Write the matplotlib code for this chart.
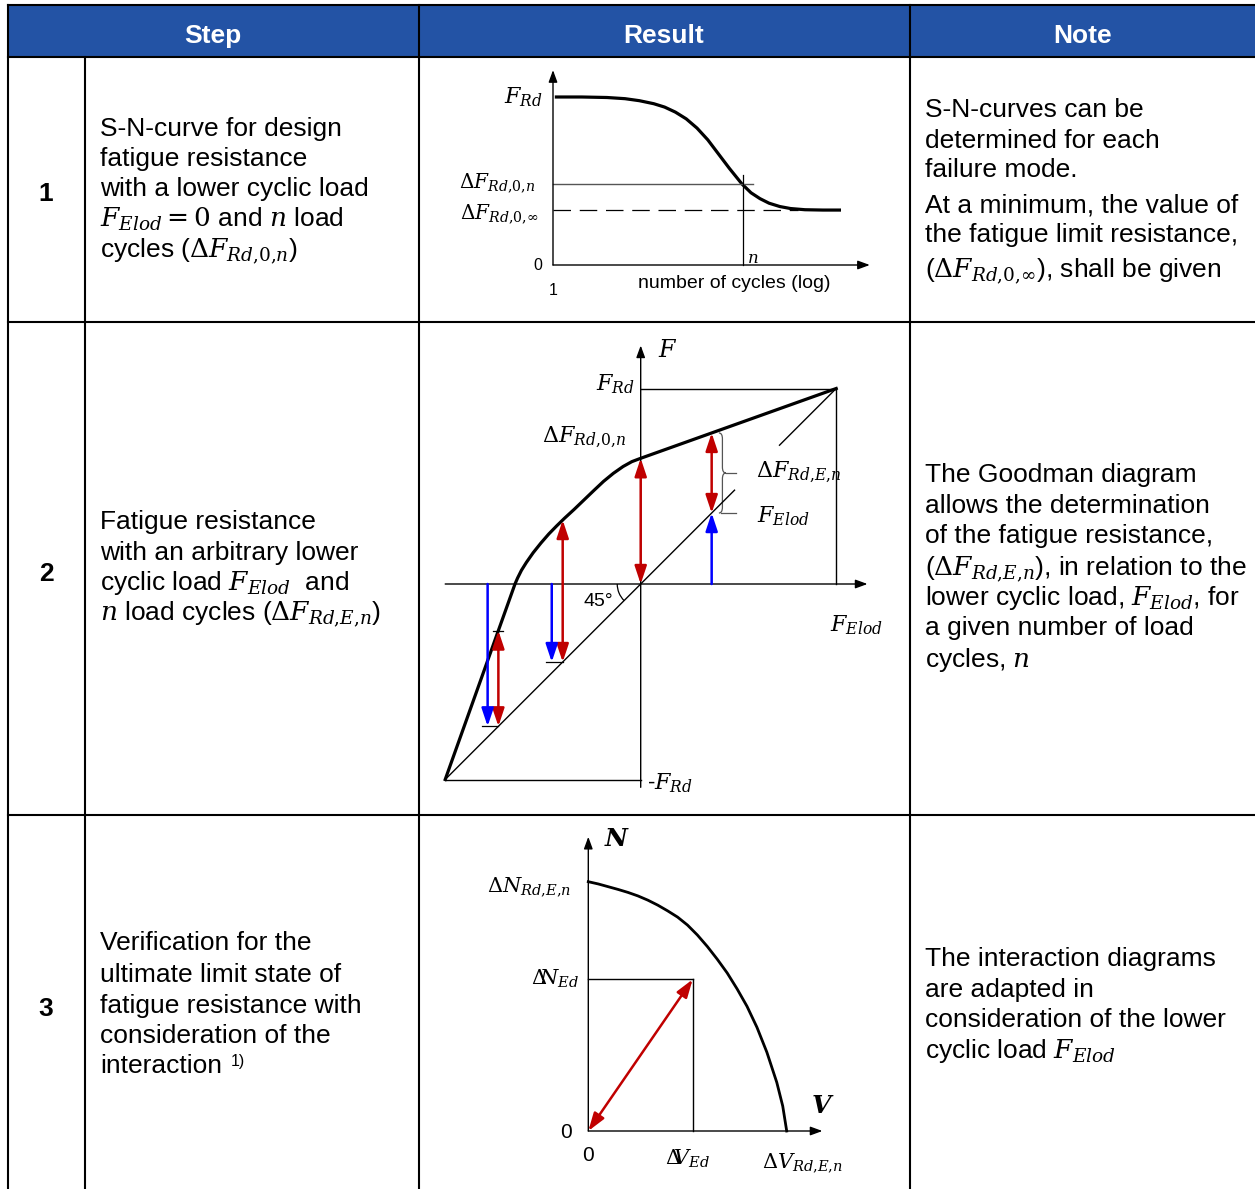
import numpy as np
import matplotlib
matplotlib.use("Agg")
import matplotlib.pyplot as plt
from matplotlib.patches import Rectangle, Arc, PathPatch
from matplotlib.path import Path

plt.rcParams['font.family'] = ['Liberation Sans', 'DejaVu Sans']
plt.rcParams['mathtext.fontset'] = 'dejavuserif'

W, H = 1255, 1189

# ---- textos de la tabla ----
encabezados = ["Step", "Result", "Note"]
pasos = ["1", "2", "3"]

texto_paso = [
    ["S-N-curve for design", "fatigue resistance", "with a lower cyclic load",
     r"$F_{Elod}=0$ and $n$ load", r"cycles ($\Delta F_{Rd{,}0{,}n}$)"],
    ["Fatigue resistance", "with an arbitrary lower",
     r"cyclic load $F_{Elod}$  and", r"$n$ load cycles ($\Delta F_{Rd{,}E{,}n}$)"],
    ["Verification for the", "ultimate limit state of", "fatigue resistance with",
     "consideration of the", "interaction"],
]
texto_nota = [
    ["S-N-curves can be", "determined for each", "failure mode.",
     "At a minimum, the value of", "the fatigue limit resistance,",
     r"($\Delta F_{Rd{,}0{,}\infty}$), shall be given"],
    ["The Goodman diagram", "allows the determination", "of the fatigue resistance,",
     r"($\Delta F_{Rd{,}E{,}n}$), in relation to the", r"lower cyclic load, $F_{Elod}$, for",
     "a given number of load", r"cycles, $n$"],
    ["The interaction diagrams", "are adapted in", "consideration of the lower",
     r"cyclic load $F_{Elod}$"],
]

# ---- diagrama 1: curva S-N (x = log ciclos, y = F / F_Rd) ----
sn_x = [0.05, 0.8, 1.5, 2.0, 2.4, 2.8, 3.1, 3.4, 3.7, 4.0, 4.3, 4.6, 4.9, 5.25, 5.5, 5.75, 6.0, 6.3, 6.6, 7.0, 7.5, 8.0]
sn_y = [1.0, 1.0, 0.997, 0.99, 0.978, 0.96, 0.94, 0.91, 0.87, 0.815, 0.745, 0.66, 0.575, 0.482, 0.43, 0.395, 0.368, 0.348, 0.336, 0.329, 0.327, 0.327]
sn_frd = 1.0
sn_n = 0.482
sn_inf = 0.327
sn_ciclos_n = 5.28

# ---- diagrama 2: Goodman (unidades de F_Rd) ----
good_x = [-1.0, -0.643, -0.63, -0.61, -0.585, -0.55, -0.51, -0.47, -0.43, -0.39, -0.34,
          -0.29, -0.24, -0.19, -0.14, -0.09, -0.045, 0.0, 1.0]
good_y = [-1.0, 0.0, 0.03, 0.07, 0.11, 0.16, 0.21, 0.256, 0.297, 0.336, 0.382,
          0.43, 0.478, 0.525, 0.566, 0.601, 0.626, 0.643, 1.0]
rojo_x = [-0.728, -0.399, 0.0, 0.363]
azul_x = [-0.783, -0.455, 0.363]
azul_fin = [-0.728, -0.399, 0.363]
recta45_tramos = [(-1.0, 0.48), (0.71, 1.0)]

# ---- diagrama 3: interaccion N-V ----
int_v = [0.0, 0.05, 0.10, 0.15, 0.20, 0.25, 0.30, 0.35, 0.40, 0.45, 0.50, 0.55,
         0.60, 0.65, 0.70, 0.75, 0.80, 0.85, 0.90, 0.95, 0.98, 1.0]
int_n = [1.0, 0.991, 0.980, 0.969, 0.957, 0.943, 0.926, 0.906, 0.883, 0.858, 0.826, 0.786,
         0.740, 0.689, 0.634, 0.570, 0.500, 0.416, 0.316, 0.195, 0.10, 0.0]
v_ed = 0.526
n_ed = 0.608

ROJO = '#C00000'
AZUL = '#0000FF'
AZUL_CAB = '#2353A5'
NARROW = ['Liberation Sans Narrow', 'Liberation Sans']
FS = 19

fig = plt.figure(figsize=(W / 100, H / 100), dpi=100)
ax = fig.add_axes([0, 0, 1, 1])
ax.set_xlim(0, W)
ax.set_ylim(H, 0)
ax.axis('off')

# ---- tabla ----
ax.add_patch(Rectangle((8, 5), W - 8, 52, facecolor=AZUL_CAB, edgecolor='none'))
lw_t = 1.5
for y in [5, 57, 321.5, 815]:
    ax.plot([8, W], [y, y], color='k', lw=lw_t, solid_capstyle='projecting')
ax.plot([8, 8], [5, H], color='k', lw=lw_t)
ax.plot([85, 85], [57, H], color='k', lw=lw_t)
for x in [419, 910.3]:
    ax.plot([x, x], [5, H], color='k', lw=lw_t)

for txt, xc in zip(encabezados, [213, 664, 1083]):
    ax.text(xc, 36, txt, color='white', fontsize=FS, fontweight='bold', ha='center', va='center')

for txt, yc in zip(pasos, [194, 574, 1009]):
    ax.text(46, yc, txt, fontsize=FS, fontweight='bold', ha='center', va='center')

base_paso = [[136, 166, 196, 227, 257], [529, 560, 590, 620], [950, 982, 1013, 1043, 1073]]
base_nota = [[117, 148, 177, 213, 242, 277], [482, 513, 543, 575, 605, 635, 667], [966, 997, 1027, 1058]]
for lineas, bases in zip(texto_paso, base_paso):
    for t, b in zip(lineas, bases):
        ax.text(100, b, t, fontsize=FS, ha='left', va='baseline')
for lineas, bases in zip(texto_nota, base_nota):
    for t, b in zip(lineas, bases):
        ax.text(925, b, t, fontsize=FS, ha='left', va='baseline')
ax.text(231, 1066, "1)", fontsize=11.5, ha='left', va='baseline')


def eje_diagrama(caja, origen, escala):
    x0, y0, x1, y1 = caja
    ox, oy = origen
    sx, sy = escala
    a = fig.add_axes([x0 / W, 1 - y1 / H, (x1 - x0) / W, (y1 - y0) / H])
    a.set_xlim((x0 - ox) / sx, (x1 - ox) / sx)
    a.set_ylim((oy - y1) / sy, (oy - y0) / sy)
    a.axis('off')
    a.patch.set_alpha(0)
    return a


def flecha(a, p0, p1, color='k', estilo='-|>,head_length=0.6,head_width=0.22', lw=1.0, ms=12):
    a.annotate('', xy=p1, xytext=p0, annotation_clip=False,
               arrowprops=dict(arrowstyle=estilo, color=color, lw=lw, mutation_scale=ms,
                               shrinkA=0, shrinkB=0))


DOBLE = '<|-|>,head_length=0.9,head_width=0.3'
SIMPLE = '-|>,head_length=0.9,head_width=0.3'

# ---- diagrama 1 ----
a1 = eje_diagrama((425, 62, 905, 316), (553, 265), (36, 168))
flecha(a1, (0, 0), (0, 1.16))
flecha(a1, (0, 0), (8.8, 0))
a1.plot(sn_x, sn_y, color='k', lw=2.3, solid_capstyle='butt', solid_joinstyle='round')
a1.plot([0, 5.56], [sn_n, sn_n], color='#555555', lw=1.0)
a1.plot([0, 6.8], [sn_inf, sn_inf], color='k', lw=0.9, linestyle=(0, (14, 7)))
a1.plot([sn_ciclos_n, sn_ciclos_n], [0, 0.536], color='k', lw=0.9)
a1.text(-0.28, sn_frd, r'$F_{Rd}$', fontsize=16, ha='right', va='center')
a1.text(-0.5, sn_n + 0.01, r'$\Delta F_{Rd{,}0{,}n}$', fontsize=14.5, ha='right', va='center')
a1.text(-0.42, sn_inf - 0.02, r'$\Delta F_{Rd{,}0{,}\infty}$', fontsize=14.5, ha='right', va='center')
a1.text(-0.3, -0.005, '0', fontsize=11.5, ha='right', va='center', family=NARROW)
a1.text(0, -0.15, '1', fontsize=11.5, ha='center', va='center', family=NARROW)
a1.text(sn_ciclos_n + 0.1, 0.04, r'$n$', fontsize=12, ha='left', va='center')
a1.text(5.03, -0.11, 'number of cycles (log)', fontsize=14, ha='center', va='center', family=NARROW)

# ---- diagrama 2 ----
a2 = eje_diagrama((425, 325, 905, 810), (640.7, 584), (195.5, 195.5))
flecha(a2, (0, -1.04), (0, 1.22))
flecha(a2, (-1.0, 0), (1.16, 0))
a2.plot([0, 1], [1, 1], color='k', lw=1.0)
a2.plot([1, 1], [1, 0], color='k', lw=1.0)
a2.plot([-1, 0], [-1, -1], color='k', lw=1.0)
for t0, t1 in recta45_tramos:
    a2.plot([t0, t1], [t0, t1], color='k', lw=1.0)
a2.plot(good_x, good_y, color='k', lw=2.3, solid_joinstyle='round')
a2.add_patch(Arc((0, 0), 0.24, 0.24, theta1=180, theta2=225, color='k', lw=0.9))

rojo_arriba = np.interp(rojo_x, good_x, good_y)
for x, yt in zip(rojo_x, rojo_arriba):
    flecha(a2, (x, x), (x, yt), color=ROJO, estilo=DOBLE, lw=1.8, ms=12)
for x, yf in zip(azul_x, azul_fin):
    flecha(a2, (x, 0), (x, yf), color=AZUL, estilo=SIMPLE, lw=1.8, ms=12)
# marcas cortas en los extremos
for i in range(2):
    a2.plot([azul_x[i] - 0.03, rojo_x[i]], [azul_fin[i], azul_fin[i]], color='k', lw=0.9)
a2.plot([rojo_x[0] - 0.025, rojo_x[0] + 0.025], [rojo_arriba[0], rojo_arriba[0]], color='k', lw=0.9)

# llave del Delta F_Rd,E,n
yb, yt = rojo_x[3], rojo_arriba[3]
ym = (yb + yt) / 2
xs, xl, xt = 0.40, 0.418, 0.436
verts = [(xs, yt), (xl, yt), (xl, yt - 0.03), (xl, ym + 0.03), (xl, ym), (xt, ym),
         (xl, ym), (xl, ym - 0.03), (xl, yb + 0.03), (xl, yb), (xs, yb)]
codes = [Path.MOVETO, Path.CURVE3, Path.CURVE3, Path.LINETO, Path.CURVE3, Path.CURVE3,
         Path.CURVE3, Path.CURVE3, Path.LINETO, Path.CURVE3, Path.CURVE3]
a2.add_patch(PathPatch(Path(verts, codes), facecolor='none', edgecolor='#555555', lw=0.9))
a2.plot([xt, 0.49], [ym, ym], color='#555555', lw=0.9)
a2.plot([0.41, 0.49], [yb, yb], color='#555555', lw=0.9)

a2.text(0.09, 1.19, r'$F$', fontsize=17, ha='left', va='center')
a2.text(-0.03, 1.02, r'$F_{Rd}$', fontsize=16, ha='right', va='center')
a2.text(-0.075, 0.75, r'$\Delta F_{Rd{,}0{,}n}$', fontsize=16, ha='right', va='center')
a2.text(0.59, 0.57, r'$\Delta F_{Rd{,}E{,}n}$', fontsize=16, ha='left', va='center')
a2.text(0.595, 0.345, r'$F_{Elod}$', fontsize=16, ha='left', va='center')
a2.text(0.97, -0.21, r'$F_{Elod}$', fontsize=16, ha='left', va='center')
a2.text(0.03, -1.02, r'-$F_{Rd}$', fontsize=16, ha='left', va='center')
a2.text(-0.215, -0.09, '45°', fontsize=14, ha='center', va='center', family=NARROW)

# ---- diagrama 3 ----
a3 = eje_diagrama((425, 820, 905, 1189), (588.3, 1131), (198.4, 249.3))
flecha(a3, (0, 0), (0, 1.18))
flecha(a3, (0, 0), (1.18, 0))
a3.plot(int_v, int_n, color='k', lw=2.0, solid_joinstyle='round')
a3.plot([0, v_ed], [n_ed, n_ed], color='k', lw=1.0)
a3.plot([v_ed, v_ed], [n_ed, 0], color='k', lw=1.0)
flecha(a3, (0, 0), (v_ed, n_ed), color=ROJO, estilo=DOBLE, lw=1.8, ms=12)

a3.text(0.08, 1.17, r'$\boldsymbol{N}$', fontsize=18, ha='left', va='center')
a3.text(1.12, 0.1, r'$\boldsymbol{V}$', fontsize=18, ha='left', va='center')
a3.text(-0.085, 0.98, r'$\Delta N_{Rd{,}E{,}n}$', fontsize=15, ha='right', va='center')
a3.text(-0.045, 0.61, r'$\Delta\!\!N_{Ed}$', fontsize=15, ha='right', va='center')
a3.text(-0.11, -0.005, '0', fontsize=15, ha='center', va='center', family=NARROW)
a3.text(0.0, -0.1, '0', fontsize=15, ha='center', va='center', family=NARROW)
a3.text(0.5, -0.11, r'$\Delta\!\!V_{Ed}$', fontsize=15, ha='center', va='center')
a3.text(1.08, -0.125, r'$\Delta V_{Rd{,}E{,}n}$', fontsize=15, ha='center', va='center')

fig.savefig('out.png', dpi=100)
